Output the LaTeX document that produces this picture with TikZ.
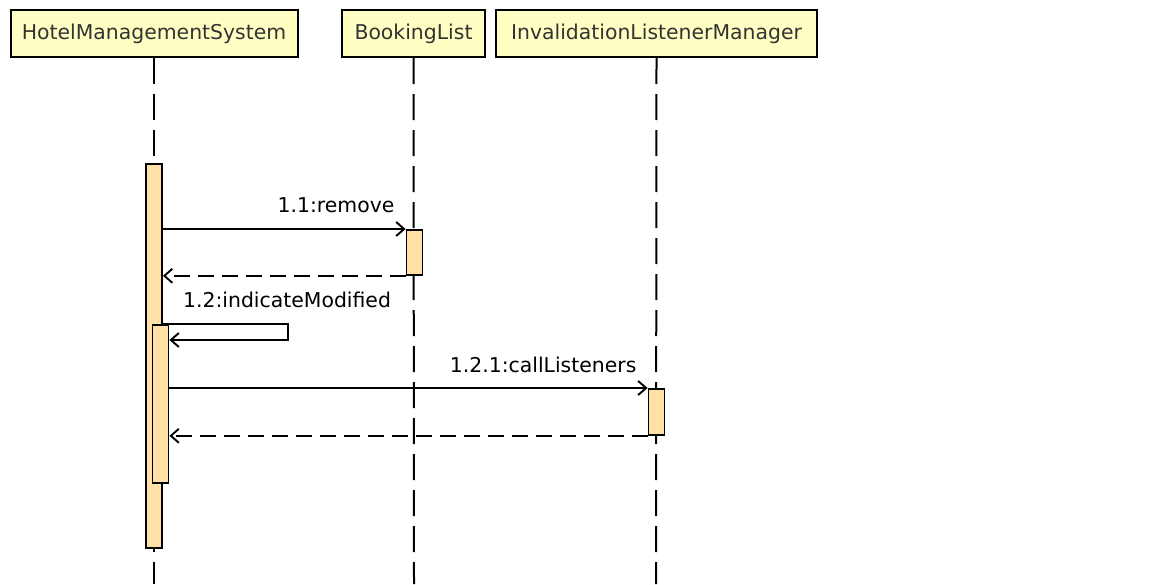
\documentclass[tikz,border=0pt]{standalone}
\usepackage{fontspec}
\setmainfont{DejaVu Sans}
\usetikzlibrary{arrows.meta}
\definecolor{headfill}{HTML}{FFFFC4}
\definecolor{actfill}{HTML}{FFE0A6}
\definecolor{headtext}{HTML}{333333}
\tikzset{
  obj/.style={draw, line width=2pt, fill=headfill, text=headtext, minimum height=47pt, inner sep=0pt, font=\fontsize{20.4}{24}\selectfont},
  act/.style={draw, line width=1.8pt, fill=actfill, minimum width=16pt, inner sep=0pt},
  life/.style={line width=2pt, dash pattern=on 26pt off 10pt},
  call/.style={line width=1.9pt, -{Straight Barb[length=8pt,width=14pt,line width=1.9pt]}},
  reply/.style={call, dash pattern=on 16pt off 8pt},
  msg/.style={font=\fontsize{20.4}{24}\selectfont, inner sep=0pt}
}
\begin{document}
\begin{tikzpicture}[x=1pt,y=-1pt]
\useasboundingbox (0,0) rectangle (1150,584);

\node[obj, minimum width=287pt] at (154,33.5)   (hms) {HotelManagementSystem};
\node[obj, minimum width=143pt] at (413.5,33.5) (bl)  {BookingList};
\node[obj, minimum width=321pt] at (656.5,33.5) (ilm) {InvalidationListenerManager};

\coordinate (hmsend) at (154,584);
\coordinate (blend)  at (414,584);
\coordinate (ilmend) at (656,584);
\draw[life] (hms.south) -- (hmsend);
\draw[life] (bl.south)  -- (blend);
\draw[life] (ilm.south) -- (ilmend);

\node[act, minimum height=384pt, anchor=north] at (154,163)   (hmsact) {};
\node[act, minimum height=45pt,  anchor=north] at (414.5,229) (blact)  {};
\node[act, minimum height=158pt, anchor=north] at (160.5,324) (subact) {};
\node[act, minimum height=46pt,  anchor=north] at (656.5,388) (ilmact) {};

\coordinate (loop) at (288,340);

\draw[call]  (hmsact.east |- blact.north) -- (blact.north west);
\draw[reply] (blact.south west) -- (hmsact.east |- blact.south);
\draw[call]  (hmsact.east |- subact.north) -| (loop) -- (subact.east |- loop);
\draw[call]  (subact.east |- ilmact.north) -- (ilmact.north west);
\draw[reply] (ilmact.south west) -- (subact.east |- ilmact.south);

\node[msg, anchor=base east] at ([xshift=-11pt,yshift=17pt]blact.north west)  (m11)  {1.1:remove};
\node[msg, anchor=base west] at ([xshift=20pt,yshift=17pt]hmsact.east |- subact.north) (m12) {1.2:indicateModified};
\node[msg, anchor=base east] at ([xshift=-11pt,yshift=16pt]ilmact.north west) (m121) {1.2.1:callListeners};

\end{tikzpicture}
\end{document}
